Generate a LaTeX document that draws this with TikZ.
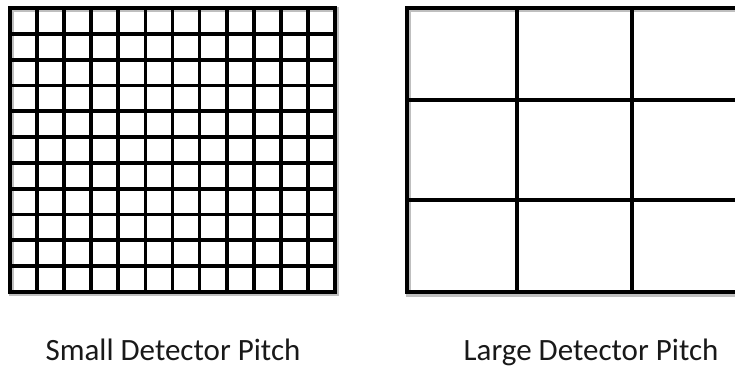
\documentclass[tikz,border=0pt]{standalone}
\usepackage{fontspec}
\setmainfont{Carlito}
\begin{document}
\begin{tikzpicture}[x=1pt,y=-1pt,
  outer/.style={line width=4.8pt,line join=miter},
  inner/.style={line width=3.8pt},
  innerR/.style={line width=3.2pt},
  shadow/.style={line width=5.5pt,draw=black!25},
  caption/.style={font=\fontsize{31}{36}\selectfont,anchor=base,inner sep=0pt,text=black!90}]
\useasboundingbox (0,0) rectangle (735,368);
\clip (0,0) rectangle (735,368);
% shadows
\draw[shadow] (11.5,9.5) rectangle (336.5,293.5);
\draw[shadow] (408.5,9.5) rectangle (752,294.5);
% left grid: 12 columns x 11 rows
\foreach \i in {1,...,11} {
  \draw[inner] ({10+\i*325/12},8) -- ({10+\i*325/12},292);
}
\foreach \j in {1,...,10} {
  \draw[inner] (10,{8+\j*284/11}) -- (335,{8+\j*284/11});
}
\draw[outer] (10,8) rectangle (335,292);
% right grid
\draw[innerR] (517,8) -- (517,292);
\draw[innerR] (632,8) -- (632,292);
\draw[innerR] (407,100) -- (750,100);
\draw[innerR] (407,200) -- (750,200);
\draw[outer] (407,8) rectangle (750,292);
% captions
\node[caption] (small) at (173,360) {Small Detector Pitch};
\node[caption] (large) at (591,360) {Large Detector Pitch};
\end{tikzpicture}
\end{document}
